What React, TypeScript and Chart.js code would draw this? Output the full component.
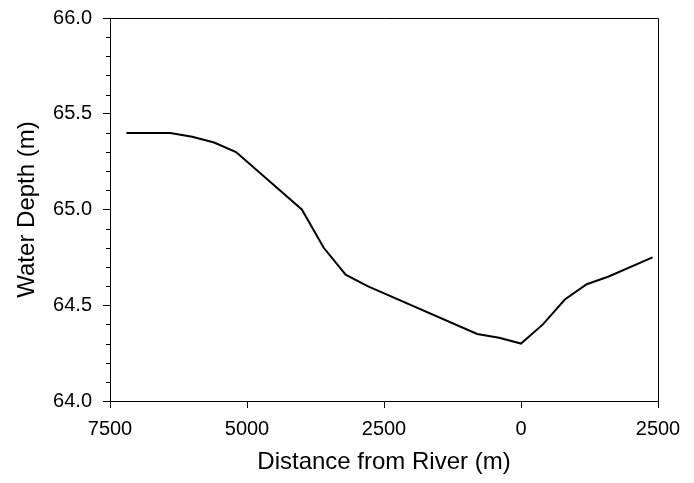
import React, { useEffect, useRef } from "react";
import { Chart, registerables } from "chart.js";

Chart.register(...registerables);

const distances = [-7200, -6400, -6000, -5600, -5200, -4000, -3600, -3200, -2800, -800, -400, 0, 400, 800, 1200, 1600, 2400];
const depths = [65.4, 65.4, 65.38, 65.35, 65.3, 65.0, 64.8, 64.66, 64.6, 64.35, 64.33, 64.3, 64.4, 64.53, 64.61, 64.65, 64.75];
const xTicks = [-7500, -5000, -2500, 0, 2500];
const yMinorTicks = [64.1, 64.2, 64.3, 64.4, 64.6, 64.7, 64.8, 64.9, 65.1, 65.2, 65.3, 65.4, 65.6, 65.7, 65.8, 65.9];

const FONT = "'Liberation Sans', Arial, sans-serif";

const framePlugin = {
  id: "frame",
  afterDraw(chart: any) {
    const { ctx, chartArea } = chart;
    const { left, right, top, bottom } = chartArea;
    ctx.save();
    ctx.strokeStyle = "#000";
    ctx.lineWidth = 1;
    ctx.beginPath();
    ctx.moveTo(left, top + 0.5);
    ctx.lineTo(right + 0.5, top + 0.5);
    ctx.lineTo(right + 0.5, bottom);
    ctx.stroke();
    const y = chart.scales.y;
    ctx.beginPath();
    for (const v of yMinorTicks) {
      const py = Math.round(y.getPixelForValue(v)) + 0.5;
      ctx.moveTo(left - 4, py);
      ctx.lineTo(left, py);
    }
    ctx.stroke();
    ctx.restore();
  },
};

export default function App() {
  const ref = useRef<HTMLCanvasElement | null>(null);
  useEffect(() => {
    if (!ref.current) return;
    const chart = new Chart(ref.current, {
      type: "line",
      data: {
        datasets: [
          {
            data: distances.map((d, i) => ({ x: d, y: depths[i] })),
            borderColor: "#000",
            borderWidth: 2,
            pointRadius: 0,
            tension: 0,
            fill: false,
          },
        ],
      },
      options: {
        animation: false,
        responsive: false,
        devicePixelRatio: 1,
        layout: { padding: { left: 9, right: 36, top: 18, bottom: 2 } },
        plugins: { legend: { display: false }, tooltip: { enabled: false } },
        scales: {
          x: {
            type: "linear",
            min: -7500,
            max: 2500,
            afterBuildTicks: (scale: any) => {
              scale.ticks = xTicks.map((v) => ({ value: v }));
            },
            afterFit: (scale: any) => {
              scale.height = 483 - 401 - 2;
              scale.paddingLeft = 0;
              scale.paddingRight = 0;
            },
            ticks: {
              color: "#000",
              font: { family: FONT, size: 20 },
              padding: 9,
              maxRotation: 0,
              callback: (v: any) => String(Math.abs(Number(v))),
            },
            grid: { drawOnChartArea: false, drawTicks: true, tickLength: 7, color: "#000" },
            border: { display: true, color: "#000", width: 1 },
            title: {
              display: true,
              text: "Distance from River (m)",
              color: "#000",
              font: { family: FONT, size: 24 },
              padding: { top: 4, bottom: 4 },
            },
          },
          y: {
            type: "linear",
            min: 64,
            max: 66,
            ticks: {
              stepSize: 0.5,
              color: "#000",
              font: { family: FONT, size: 20 },
              padding: 11,
              callback: (v: any) => Number(v).toFixed(1),
            },
            afterFit: (scale: any) => {
              scale.width = 110 - 9;
              scale.paddingTop = 0;
              scale.paddingBottom = 0;
            },
            grid: { drawOnChartArea: false, drawTicks: true, tickLength: 7, color: "#000" },
            border: { display: true, color: "#000", width: 1 },
            title: {
              display: true,
              text: "Water Depth (m)",
              color: "#000",
              font: { family: FONT, size: 24 },
              padding: { top: 4, bottom: 4 },
            },
          },
        },
      },
      plugins: [framePlugin],
    });
    return () => chart.destroy();
  }, []);
  return (
    <div style={{ position: "absolute", left: 0, top: 0, width: 694, height: 483, background: "#fff" }}>
      <canvas ref={ref} width={694} height={483} style={{ width: 694, height: 483 }} />
    </div>
  );
}
